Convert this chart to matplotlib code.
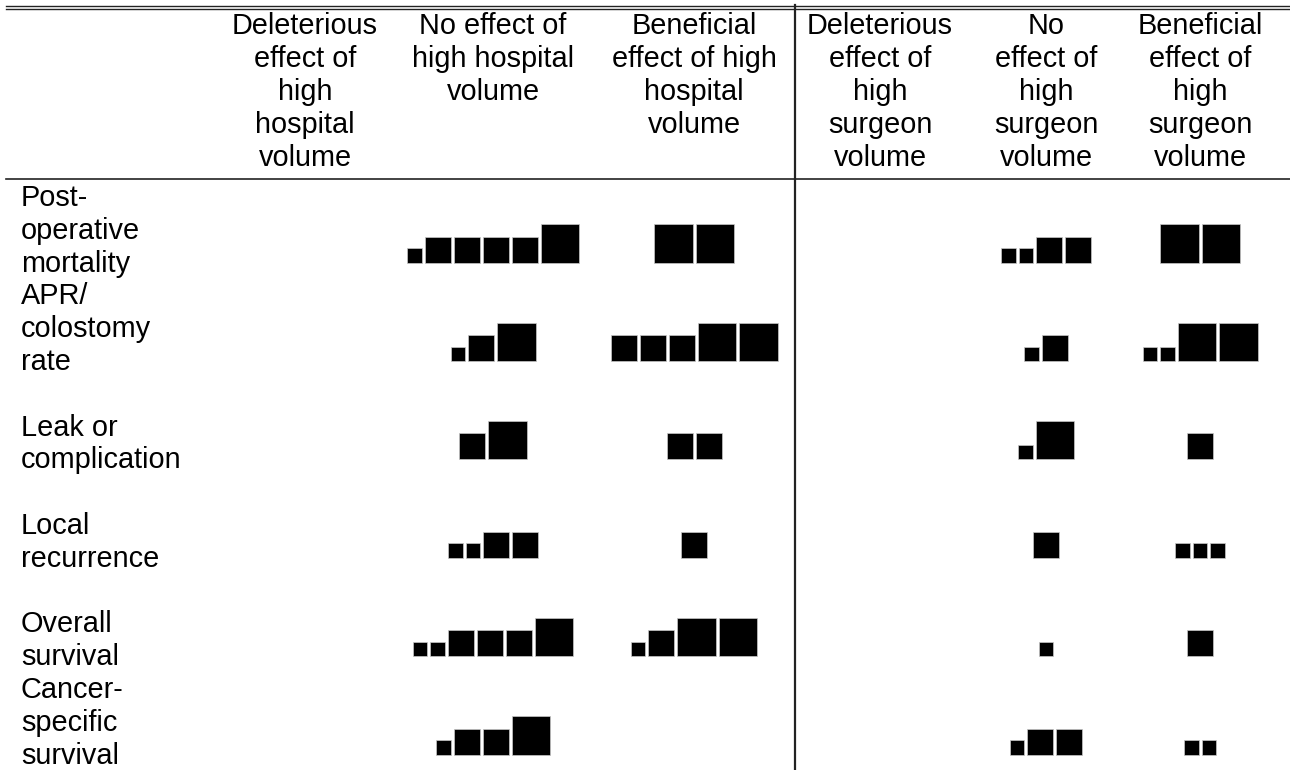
import matplotlib.pyplot as plt
from matplotlib.patches import Rectangle

# wiersze tabeli (wyniki)
outcomes = ["Post-\noperative\nmortality",
            "APR/\ncolostomy\nrate",
            "\nLeak or\ncomplication",
            "\nLocal\nrecurrence",
            "\nOverall\nsurvival",
            "Cancer-\nspecific\nsurvival"]

headers = ["Deleterious\neffect of\nhigh\nhospital\nvolume",
           "No effect of\nhigh hospital\nvolume",
           "Beneficial\neffect of high\nhospital\nvolume",
           "Deleterious\neffect of\nhigh\nsurgeon\nvolume",
           "No\neffect of\nhigh\nsurgeon\nvolume",
           "Beneficial\neffect of\nhigh\nsurgeon\nvolume"]

# wielkość badania: 1 = małe, 2 = średnie, 3 = duże
hosp_deleterious = [[], [], [], [], [], []]
hosp_none = [[1, 2, 2, 2, 2, 3], [1, 2, 3], [2, 3], [1, 1, 2, 2], [1, 1, 2, 2, 2, 3], [1, 2, 2, 3]]
hosp_beneficial = [[3, 3], [2, 2, 2, 3, 3], [2, 2], [2], [1, 2, 3, 3], []]
surg_deleterious = [[], [], [], [], [], []]
surg_none = [[1, 1, 2, 2], [1, 2], [1, 3], [2], [1], [1, 2, 2]]
surg_beneficial = [[3, 3], [1, 1, 3, 3], [2], [1, 1, 1], [2], [1, 1]]


def rysuj_kwadraty(ax, srodek_x, dol_y, rozmiary, boki, odstep=3):
    if not rozmiary:
        return
    szer = sum(boki[r] for r in rozmiary) + odstep * (len(rozmiary) - 1)
    x = srodek_x - szer / 2
    for r in rozmiary:
        b = boki[r]
        ax.add_patch(Rectangle((x, dol_y - b), b, b, facecolor='black',
                               edgecolor='#c8c8c8', linewidth=0.5))
        x += b + odstep


def rysuj_tabele():
    fig = plt.figure(figsize=(12.9, 7.7), dpi=100)
    ax = fig.add_axes([0, 0, 1, 1])
    ax.set_xlim(0, 1290)
    ax.set_ylim(770, 0)
    ax.axis('off')

    czcionka = dict(family=['Liberation Sans', 'DejaVu Sans'], fontsize=20.8, color='black')
    srodki = [305, 493, 694, 880, 1046, 1200]
    boki = {1: 14.5, 2: 26, 3: 38.5}
    krok = 32.8

    # linie tabeli
    ax.plot([6, 1290], [5.5, 5.5], color='#222222', lw=1.0)
    ax.plot([6, 1290], [8.7, 8.7], color='#222222', lw=1.0)
    ax.plot([6, 1290], [179, 179], color='#222222', lw=1.2)
    ax.plot([795, 795], [5, 770], color='#222222', lw=1.6)

    # nagłówki kolumn
    for sx, naglowek in zip(srodki, headers):
        for i, linia in enumerate(naglowek.split("\n")):
            ax.text(sx, 34 + 33 * i, linia, ha='center', va='baseline', **czcionka)

    # etykiety wierszy
    for r, nazwa in enumerate(outcomes):
        for i, linia in enumerate(nazwa.split("\n")):
            if linia:
                ax.text(21, 206 + krok * (3 * r + i), linia, ha='left', va='baseline', **czcionka)

    kolumny = [hosp_deleterious, hosp_none, hosp_beneficial,
               surg_deleterious, surg_none, surg_beneficial]
    for r in range(len(outcomes)):
        dol = 206 + krok * (3 * r + 2) - 9
        for sx, kol in zip(srodki, kolumny):
            rysuj_kwadraty(ax, sx, dol, kol[r], boki)

    fig.savefig("out.png", dpi=100)


if __name__ == "__main__":
    rysuj_tabele()
